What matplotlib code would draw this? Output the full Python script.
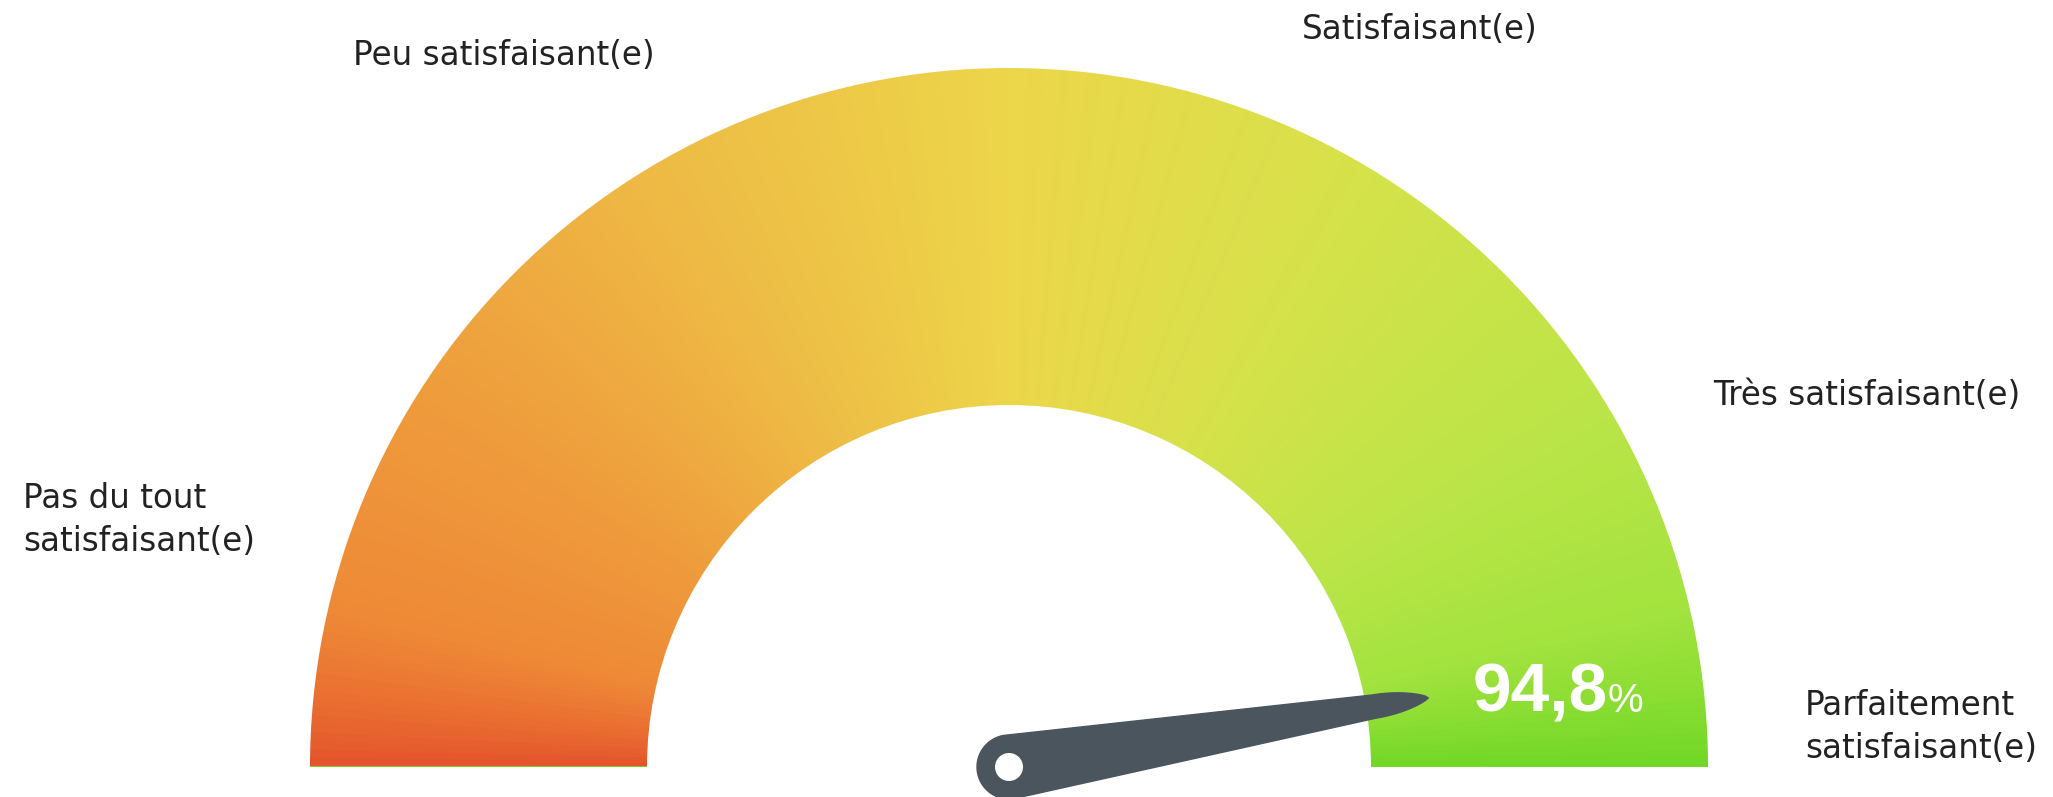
import numpy as np
import matplotlib
matplotlib.use("Agg")
import matplotlib.pyplot as plt
from matplotlib.colors import LinearSegmentedColormap
from matplotlib.patches import Wedge, Polygon, Circle

# ---- data ----
value = 94.8
value_text = "94,8"
unit_text = "%"
category_labels = ["Pas du tout\nsatisfaisant(e)", "Peu satisfaisant(e)", "Satisfaisant(e)",
                   "Très satisfaisant(e)", "Parfaitement\nsatisfaisant(e)"]
grad_pos = [0.0, 0.03, 0.07, 0.17, 0.33, 0.5, 0.67, 0.83, 0.93, 0.97, 1.0]
grad_cols = ["#E4552C", "#EA7032", "#EE8A37", "#EE9A3C", "#EEBB45", "#EDD64A",
             "#D6E24A", "#BBE548", "#A3E33F", "#8ADD32", "#72D828"]

W, H = 2053, 797
fig = plt.figure(figsize=(W / 100, H / 100), dpi=100)
ax = fig.add_axes([0, 0, 1, 1])
ax.set_xlim(0, W)
ax.set_ylim(H, 0)
ax.axis("off")

cx, cy = 1009, 767
r_out, r_in = 699, 362

# gradient image
cmap = LinearSegmentedColormap.from_list("g", list(zip(grad_pos, grad_cols)))
x0, x1 = cx - r_out - 5, cx + r_out + 5
y0, y1 = cy - r_out - 5, cy + 5
xs = np.linspace(x0, x1, 1400)
ys = np.linspace(y0, y1, 720)
X, Y = np.meshgrid(xs, ys)
ang = np.degrees(np.arctan2(cy - Y, X - cx))
ang = np.clip(ang, 0, 180)
t = (180 - ang) / 180
img = ax.imshow(cmap(t), extent=(x0, x1, y1, y0), origin="upper", interpolation="bilinear", zorder=1)
wedge = Wedge((cx, cy), r_out, 180, 360, width=r_out - r_in, transform=ax.transData,
              facecolor="none", edgecolor="none")
ax.add_patch(wedge)
img.set_clip_path(wedge)

# needle
theta = np.radians(180 * (1 - value / 100))
L = 425
rb = 32
x_tip0 = 370
w_tip0 = 11.5
pts = []
for a in np.linspace(np.pi / 2, 3 * np.pi / 2, 40):
    pts.append((rb * np.cos(a), rb * np.sin(a)))
xt = np.linspace(x_tip0, L, 20)
wt = w_tip0 * (1 - ((xt - x_tip0) / (L - x_tip0)) ** 2) ** 0.8
for x, w in zip(xt, wt):
    pts.append((x, -w))
for x, w in zip(xt[::-1][1:], wt[::-1][1:]):
    pts.append((x, w + 0.5))
pts = np.array(pts)
c, s = np.cos(theta), np.sin(theta)
px = cx + pts[:, 0] * c - pts[:, 1] * s
py = cy - (pts[:, 0] * s + pts[:, 1] * c)
ax.add_patch(Polygon(np.column_stack([px, py]), closed=True, facecolor="#4A555E",
                     edgecolor="#4A555E", lw=1, zorder=3, joinstyle="round"))
ax.add_patch(Circle((cx, cy), 14, facecolor="white", edgecolor="none", zorder=4))

# value text
ax.text(1473, 712, value_text, fontsize=50, fontweight="bold", color="white",
        family="Liberation Sans", ha="left", va="baseline", zorder=5)
ax.text(1608, 712, unit_text, fontsize=29, color="white",
        family="Liberation Sans", ha="left", va="baseline", zorder=5)

# category labels
lab_kw = dict(fontsize=23.5, color="#222222", family="DejaVu Sans", linespacing=1.4)
ax.text(23, 520, category_labels[0], ha="left", va="center", **lab_kw)
ax.text(504, 55, category_labels[1], ha="center", va="center", **lab_kw)
ax.text(1420, 29, category_labels[2], ha="center", va="center", **lab_kw)
ax.text(1713, 395, category_labels[3], ha="left", va="center", **lab_kw)
ax.text(1805, 727, category_labels[4], ha="left", va="center", **lab_kw)

fig.savefig("out.png", dpi=100, facecolor="white")
